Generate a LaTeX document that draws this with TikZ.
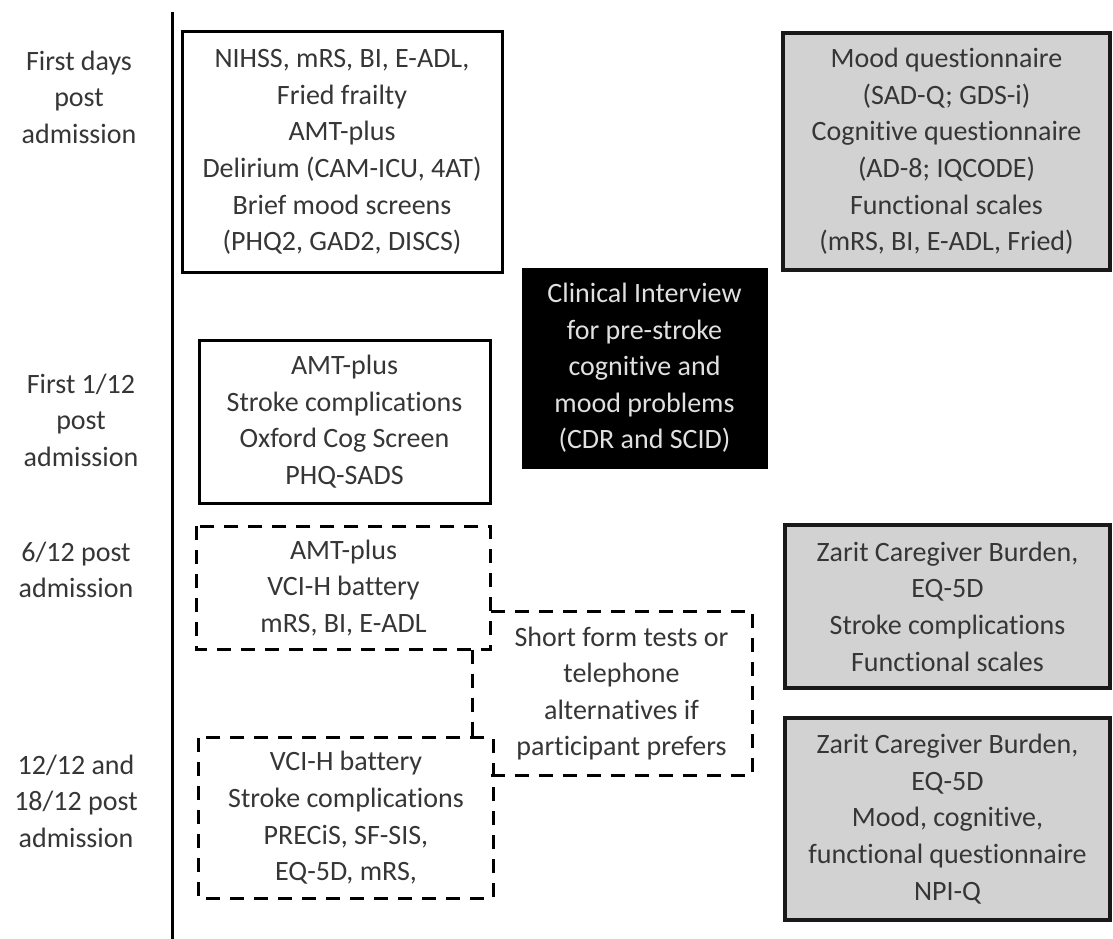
\documentclass[tikz,border=0pt]{standalone}
\usepackage{fontspec}
\setmainfont{Carlito}[Ligatures=CommonOff]
\definecolor{txt}{HTML}{363636}
\definecolor{boxgray}{HTML}{D2D2D2}
\tikzset{
  base/.style={align=center, inner sep=0pt, text=txt, font=\fontsize{28}{36.6}\selectfont},
  solidbox/.style={base, draw=black, line width=3pt, fill=white},
  graybox/.style={base, draw=black!90, line width=3.5pt, fill=boxgray},
  blackbox/.style={base, draw=black, fill=black, text=white!88!black},
  dashbox/.style={base},
  dashline/.style={draw=black, line width=3pt, dash pattern=on 14pt off 10pt},
  label/.style={base}
}
\begin{document}
\begin{tikzpicture}[x=1pt,y=-1pt]
\useasboundingbox (0,0) rectangle (1113,939);
\fill[white] (0,0) rectangle (1113,939);

% axis
\coordinate (axtop) at (172,12);
\coordinate (axbot) at (172,939);
\draw[line width=3pt] (axtop) -- (axbot);

% left labels
\node[label] (l1) at (79,97) {First days\\post\\admission};
\node[label] (l2) at (81,420) {First 1/12\\post\\admission};
\node[label] (l3) at (76,570) {6/12 post\\admission};
\node[label] (l4) at (76,801) {12/12 and\\18/12 post\\admission};

% solid boxes
\node[solidbox, minimum width=320pt, minimum height=240pt] (b1) at (342,152)
  {NIHSS, mRS, BI, E-ADL,\\Fried frailty\\AMT-plus\\Delirium (CAM-ICU, 4AT)\\Brief mood screens\\(PHQ2, GAD2, DISCS)};
\node[solidbox, minimum width=291pt, minimum height=163pt] (b2) at (344.5,421.5)
  {AMT-plus\\Stroke complications\\Oxford Cog Screen\\PHQ-SADS};

% black box
\node[blackbox, minimum width=245pt, minimum height=200pt] (blk) at (644.5,368)
  {Clinical Interview\\for pre-stroke\\cognitive and\\mood problems\\(CDR and SCID)};

% gray boxes
\node[graybox, minimum width=327pt, minimum height=237pt] (g1) at (946.5,151.5)
  {Mood questionnaire\\(SAD-Q; GDS-i)\\Cognitive questionnaire\\(AD-8; IQCODE)\\Functional scales\\(mRS, BI, E-ADL, Fried)};
\node[graybox, minimum width=325pt, minimum height=163pt] (g2) at (947.5,606.5)
  {Zarit Caregiver Burden,\\EQ-5D\\Stroke complications\\Functional scales};
\node[graybox, minimum width=325pt, minimum height=202pt] (g3) at (947.5,819)
  {Zarit Caregiver Burden,\\EQ-5D\\Mood, cognitive,\\functional questionnaire\\NPI-Q};

% dashed boxes
\node[dashbox, minimum width=293pt, minimum height=123pt] (d1) at (343.5,588)
  {AMT-plus\\VCI-H battery\\mRS, BI, E-ADL};
\node[dashbox, minimum width=294pt, minimum height=160pt] (d2) at (346,818)
  {VCI-H battery\\Stroke complications\\PRECiS, SF-SIS,\\EQ-5D, mRS,};
\node[dashbox, minimum width=261pt, minimum height=163pt] (s) at (621.5,693.5)
  {Short form tests or\\telephone\\alternatives if\\participant prefers};

\draw[dashline] (d1.north west) rectangle (d1.south east);
\draw[dashline] (d2.north west) rectangle (d2.south east);
\draw[dashline] (s.north west) -- (s.north east) -- (s.south east) -- (s.south west);

% connector between dashed boxes
\coordinate (cx) at (472,0);
\draw[dashline] (d1.south -| cx) -- (d2.north -| cx);
\end{tikzpicture}
\end{document}
